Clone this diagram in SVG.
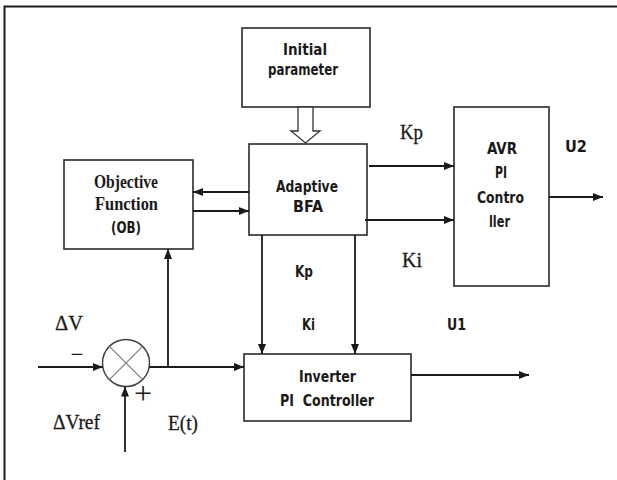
<svg xmlns="http://www.w3.org/2000/svg" width="617" height="480" viewBox="0 0 617 480">
<style>
.box{fill:#fff;stroke:#2a2a2a;stroke-width:1.6}
.ln{fill:none;stroke:#1a1a1a;stroke-width:1.8}
.lb{font-family:"DejaVu Sans Condensed","DejaVu Sans",sans-serif;font-weight:bold;fill:#1a1a1a}
.sb{font-family:"Liberation Serif",serif;font-weight:bold;fill:#1a1a1a}
.sr{font-family:"Liberation Serif",serif;fill:#1a1a1a;stroke:#1a1a1a;stroke-width:0.3}
</style>
<defs>
<marker id="ah" viewBox="0 0 10 8" refX="10" refY="4" markerWidth="10" markerHeight="8" markerUnits="userSpaceOnUse" orient="auto">
<path d="M0,0 L10,4 L0,8 Z" fill="#1a1a1a"/>
</marker>
</defs>
<path d="M4.5,480 V6.5 H617" fill="none" stroke="#1a1a1a" stroke-width="2"/>

<g id="initial-parameter">
<rect class="box" x="242" y="28" width="128" height="79"/>
<text class="lb" x="283" y="55" font-size="16" textLength="44" lengthAdjust="spacingAndGlyphs">Initial</text>
<text class="lb" x="268" y="75" font-size="16" textLength="70" lengthAdjust="spacingAndGlyphs">parameter</text>
</g>

<g id="adaptive-bfa">
<rect class="box" x="249" y="144" width="118" height="91"/>
<text class="lb" x="276" y="192" font-size="15" textLength="62" lengthAdjust="spacingAndGlyphs">Adaptive</text>
<text class="lb" x="293" y="212" font-size="15" textLength="30" lengthAdjust="spacingAndGlyphs">BFA</text>
</g>

<g id="objective-function">
<rect class="box" x="64" y="160" width="129" height="89"/>
<text class="sb" x="94" y="188" font-size="18" textLength="64" lengthAdjust="spacingAndGlyphs">Objective</text>
<text class="sb" x="95" y="210" font-size="18" textLength="63" lengthAdjust="spacingAndGlyphs">Function</text>
<text class="lb" x="111" y="233" font-size="15" textLength="30" lengthAdjust="spacingAndGlyphs">(OB)</text>
</g>

<g id="avr-pi-controller">
<rect class="box" x="454" y="107" width="95" height="179"/>
<text class="lb" x="487" y="154" font-size="15" textLength="30" lengthAdjust="spacingAndGlyphs">AVR</text>
<text class="lb" x="495" y="178" font-size="15" textLength="12" lengthAdjust="spacingAndGlyphs">PI</text>
<text class="lb" x="477" y="203" font-size="15" textLength="47" lengthAdjust="spacingAndGlyphs">Contro</text>
<text class="lb" x="489" y="227" font-size="15" textLength="21" lengthAdjust="spacingAndGlyphs">ller</text>
</g>

<g id="inverter-pi-controller">
<rect class="box" x="244" y="354" width="167" height="67"/>
<text class="lb" x="299" y="382" font-size="15" textLength="57" lengthAdjust="spacingAndGlyphs">Inverter</text>
<text class="lb" x="280" y="406" font-size="15" textLength="94" lengthAdjust="spacingAndGlyphs" xml:space="preserve">PI  Controller</text>
</g>

<g id="summing-junction">
<circle cx="126" cy="363" r="23.5" fill="#fff" stroke="#444" stroke-width="1.5"/>
<path d="M109.4,346.4 L142.6,379.6 M142.6,346.4 L109.4,379.6" stroke="#777" stroke-width="1.1" fill="none"/>
</g>

<g id="connectors">
<polygon points="298,107 313,107 313,131 320,131 305.5,143 291,131 298,131" fill="#fff" stroke="#333" stroke-width="1.3"/>
<line class="ln" x1="249" y1="192" x2="193" y2="192" marker-end="url(#ah)"/>
<line class="ln" x1="193" y1="211" x2="249" y2="211" marker-end="url(#ah)"/>
<line class="ln" x1="369" y1="166" x2="454" y2="166" marker-end="url(#ah)"/>
<line class="ln" x1="365" y1="220" x2="454" y2="220" marker-end="url(#ah)"/>
<line class="ln" x1="549" y1="197" x2="603" y2="197" marker-end="url(#ah)"/>
<line class="ln" x1="262" y1="235" x2="262" y2="354" marker-end="url(#ah)"/>
<line class="ln" x1="355" y1="235" x2="355" y2="354" marker-end="url(#ah)"/>
<line class="ln" x1="38" y1="367" x2="102.8" y2="367" marker-end="url(#ah)"/>
<line class="ln" x1="149.2" y1="367" x2="244" y2="367" marker-end="url(#ah)"/>
<line class="ln" x1="168" y1="367" x2="168" y2="249" marker-end="url(#ah)"/>
<line class="ln" x1="125" y1="452" x2="125" y2="386.5" marker-end="url(#ah)"/>
<line class="ln" x1="411" y1="375" x2="529" y2="375" marker-end="url(#ah)"/>
</g>

<g id="labels">
<text class="sr" x="400" y="139" font-size="21" textLength="23" lengthAdjust="spacingAndGlyphs">Kp</text>
<text class="sr" x="402" y="267" font-size="21" textLength="20" lengthAdjust="spacingAndGlyphs">Ki</text>
<text class="lb" x="565" y="152" font-size="16" textLength="22" lengthAdjust="spacingAndGlyphs">U2</text>
<text class="lb" x="295" y="277" font-size="16" textLength="18" lengthAdjust="spacingAndGlyphs">Kp</text>
<text class="lb" x="302" y="330" font-size="16" textLength="13" lengthAdjust="spacingAndGlyphs">Ki</text>
<text class="lb" x="447" y="330" font-size="16" textLength="19" lengthAdjust="spacingAndGlyphs">U1</text>
<text class="sr" x="55" y="330" font-size="20" textLength="28" lengthAdjust="spacingAndGlyphs">ΔV</text>
<text class="sr" x="72" y="359" font-size="18" textLength="10" lengthAdjust="spacingAndGlyphs">–</text>
<text class="sr" x="134" y="403.5" font-size="32" style="stroke:none">+</text>
<text class="sr" x="53" y="429" font-size="20" textLength="47" lengthAdjust="spacingAndGlyphs">ΔVref</text>
<text class="sr" x="168" y="430" font-size="20" textLength="30" lengthAdjust="spacingAndGlyphs">E(t)</text>
</g>
</svg>
